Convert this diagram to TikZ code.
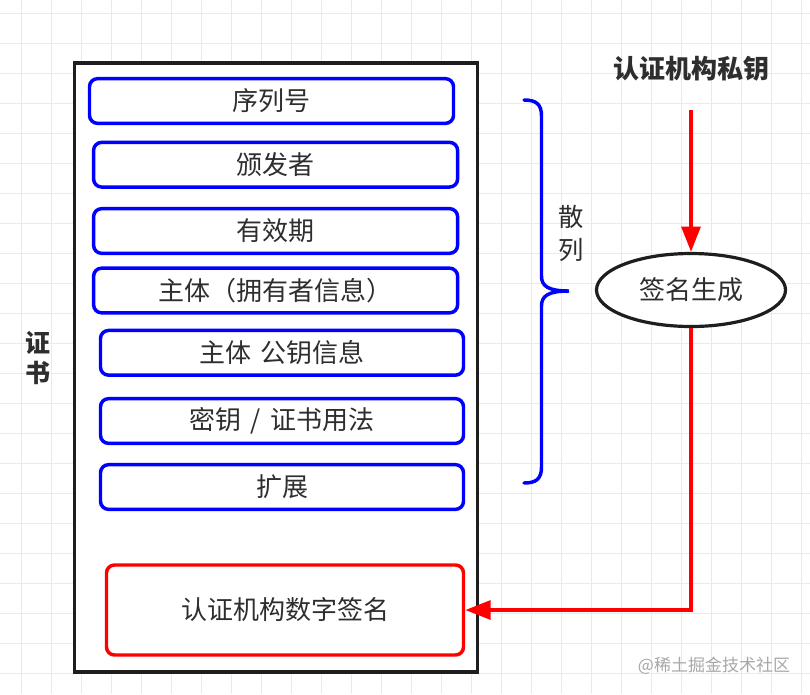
\documentclass[tikz,border=0pt]{standalone}
\usepackage{fontspec}
\newfontfamily\cjk{Noto Sans CJK SC}
\usetikzlibrary{arrows.meta,shapes.geometric}
\definecolor{txt}{HTML}{2E2E2E}
\definecolor{gridc}{HTML}{EAEAEA}
\definecolor{frame}{HTML}{1E1E1E}
\definecolor{wm}{HTML}{A8A8A8}
\begin{document}
\begin{tikzpicture}[x=0.75pt,y=-0.75pt,
  field/.style={draw=blue, line width=2.6pt, rounded corners=6pt,
    minimum height=33.5pt, inner sep=0pt, text=txt,
    font=\cjk\fontsize{19.5pt}{22pt}\selectfont},
  sigbox/.style={field, draw=red, minimum height=67.5pt},
  lbl/.style={inner sep=0pt, text=txt, font=\cjk\fontsize{19pt}{22pt}\selectfont},
  redline/.style={draw=red, line width=3pt},
  tip/.style={-{Triangle[length=19pt,width=14pt]}}
]
\useasboundingbox (0,0) rectangle (810,694);
\fill[white] (0,0) rectangle (810,694);
% grid
\foreach \i in {0,...,26} \draw[gridc, line width=0.9pt] ({21.7+30*\i},0) -- ({21.7+30*\i},694);
\foreach \j in {0,...,22} \draw[gridc, line width=0.9pt] (0,{13.3+30*\j}) -- (810,{13.3+30*\j});

% certificate frame
\node[draw=frame, fill=white, line width=2.6pt, minimum width={402.7*0.75pt}, minimum height={609*0.75pt}, inner sep=0pt] (cert) at (276.1,367.7) {};

% fields
\node[field, minimum width={364*0.75pt}] (f1) at (271.5,101) {序列号};
\node[field, minimum width={364*0.75pt}] (f2) at (275.6,164.7) {颁发者};
\node[field, minimum width={364*0.75pt}] (f3) at (275.6,231) {有效期};
\node[field, minimum width={364*0.75pt}] (f4) at (275.6,290.5) {主体（拥有者信息）};
\node[field, minimum width={363*0.75pt}] (f5) at (282,352.8) {主体\hspace{0.33em}公钥信息};
\node[field, minimum width={363*0.75pt}] (f6) at (282,421) {密钥\hspace{0.35em}/\hspace{0.35em}证书用法};
\node[field, minimum width={363*0.75pt}] (f7) at (282,487) {扩展};
\node[sigbox, minimum width={357*0.75pt}] (dsig) at (285,610) {认证机构数字签名};

% side label
\node[lbl, align=center, font=\cjk\bfseries\fontsize{18.75pt}{22.5pt}\selectfont] (certlbl) at (38,358) {证\\书};

% brace
\draw[blue, line width=2.6pt, line cap=round]
  (524,100) .. controls (536,100) and (541.5,104) .. (541.5,116)
  -- (541.5,276) .. controls (541.5,286) and (548,291) .. (569,291)
  .. controls (548,291) and (541.5,296) .. (541.5,306)
  -- (541.5,467) .. controls (541.5,479) and (536,483) .. (524,483);
\node[lbl, align=center, font=\cjk\fontsize{19pt}{24.75pt}\selectfont] (hash) at (571,233.5) {散\\列};

% signing
\node[lbl, font=\cjk\bfseries\fontsize{19.5pt}{22pt}\selectfont] (key) at (691.5,69) {认证机构私钥};
\coordinate (keyout) at (691,110);
\node[ellipse, draw=frame, fill=white, line width=2.4pt, minimum width={189*0.75pt}, minimum height={73*0.75pt}, inner sep=0pt, text=txt, font=\cjk\fontsize{19.5pt}{22pt}\selectfont] (sig) at (691,290) {签名生成};

\draw[redline, tip] (keyout) -- (sig.north);
\draw[redline, tip] (sig.south) |- (dsig.east);

% watermark
\node[inner sep=0pt, text=wm, font=\cjk\fontsize{12.75pt}{14pt}\selectfont] (wmark) at (714,666) {@稀土掘金技术社区};
\end{tikzpicture}
\end{document}
